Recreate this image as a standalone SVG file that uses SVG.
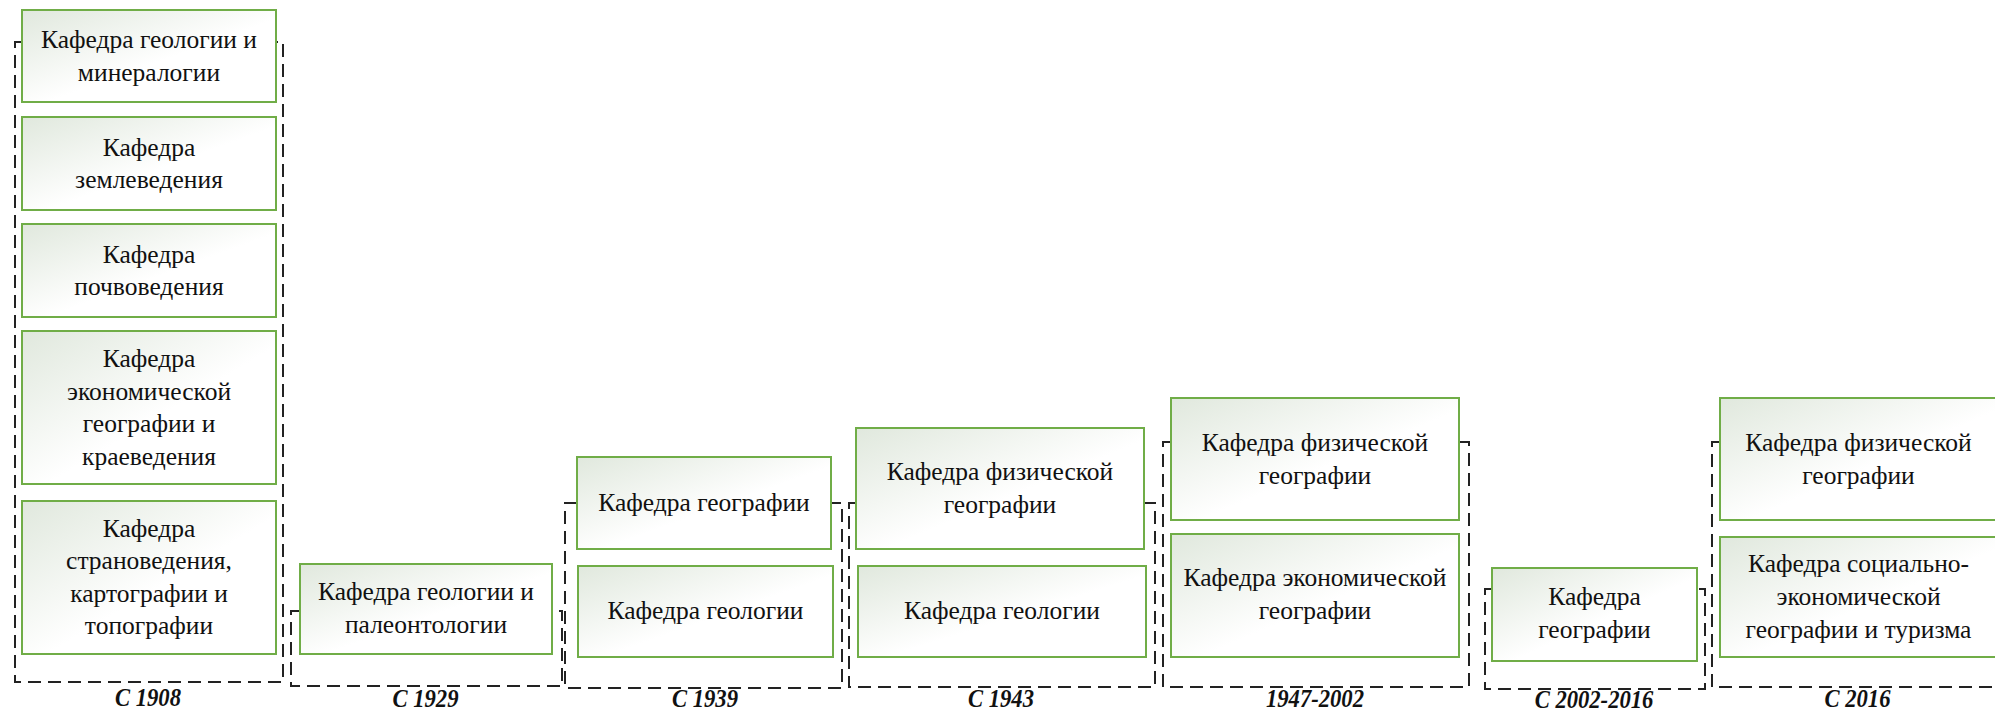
<svg xmlns="http://www.w3.org/2000/svg" width="1995" height="712" viewBox="0 0 1995 712">
<defs>
<linearGradient id="fillg" x1="0" y1="0" x2="1" y2="1">
<stop offset="0" stop-color="#e0e8dd"/>
<stop offset="0.55" stop-color="#ffffff"/>
<stop offset="1" stop-color="#ffffff"/>
</linearGradient>
</defs>
<style>
.box{fill:url(#fillg);stroke:#70ad47;stroke-width:2}
.t{font-family:"Liberation Serif","Times New Roman","DejaVu Serif",serif;font-size:25.5px;fill:#111;text-anchor:middle}
.br{fill:none;stroke:#222;stroke-width:2;stroke-dasharray:13 7}
.lab{font-family:"Liberation Serif","Times New Roman","DejaVu Serif",serif;font-size:26px;font-weight:bold;font-style:italic;fill:#111;text-anchor:middle}
</style>
<rect width="1995" height="712" fill="#ffffff"/>

<g id="connectors">
<path class="br" d="M22,42 H15 V682 H283 V42 H276"/>
<path class="br" d="M300,611 H291 V686 H562 V611 H552"/>
<path class="br" d="M577,503 H565 V688 H842 V503 H831"/>
<path class="br" d="M856,503 H849 V687 H1155 V503 H1144"/>
<path class="br" d="M1171,442 H1163 V687 H1469 V442 H1459"/>
<path class="br" d="M1492,589 H1485 V689 H1705 V589 H1697"/>
<path class="br" d="M1720,442 H1712 V687 H2005"/>
</g>

<g id="n1908a"><rect class="box" x="22" y="10" width="254" height="92"/>
<text class="t" x="149" y="48">Кафедра геологии и</text><text class="t" x="149" y="81">минералогии</text></g>
<g id="n1908b"><rect class="box" x="22" y="117" width="254" height="93"/>
<text class="t" x="149" y="156">Кафедра</text><text class="t" x="149" y="188">землеведения</text></g>
<g id="n1908c"><rect class="box" x="22" y="224" width="254" height="93"/>
<text class="t" x="149" y="263">Кафедра</text><text class="t" x="149" y="295">почвоведения</text></g>
<g id="n1908d"><rect class="box" x="22" y="331" width="254" height="153"/>
<text class="t" x="149" y="367">Кафедра</text><text class="t" x="149" y="400">экономической</text><text class="t" x="149" y="432">географии и</text><text class="t" x="149" y="465">краеведения</text></g>
<g id="n1908e"><rect class="box" x="22" y="501" width="254" height="153"/>
<text class="t" x="149" y="537">Кафедра</text><text class="t" x="149" y="569">страноведения,</text><text class="t" x="149" y="602">картографии и</text><text class="t" x="149" y="634">топографии</text></g>

<g id="n1929"><rect class="box" x="300" y="564" width="252" height="90"/>
<text class="t" x="426" y="600">Кафедра геологии и</text><text class="t" x="426" y="633">палеонтологии</text></g>

<g id="n1939a"><rect class="box" x="577" y="457" width="254" height="92"/>
<text class="t" x="704" y="511">Кафедра географии</text></g>
<g id="n1939b"><rect class="box" x="578" y="566" width="255" height="91"/>
<text class="t" x="705.5" y="619">Кафедра геологии</text></g>

<g id="n1943a"><rect class="box" x="856" y="428" width="288" height="121"/>
<text class="t" x="1000" y="480">Кафедра физической</text><text class="t" x="1000" y="513">географии</text></g>
<g id="n1943b"><rect class="box" x="858" y="566" width="288" height="91"/>
<text class="t" x="1002" y="619">Кафедра геологии</text></g>

<g id="n1947a"><rect class="box" x="1171" y="398" width="288" height="122"/>
<text class="t" x="1315" y="451">Кафедра физической</text><text class="t" x="1315" y="484">географии</text></g>
<g id="n1947b"><rect class="box" x="1171" y="534" width="288" height="123"/>
<text class="t" x="1315" y="586">Кафедра экономической</text><text class="t" x="1315" y="619">географии</text></g>

<g id="n2002"><rect class="box" x="1492" y="568" width="205" height="93"/>
<text class="t" x="1594.5" y="605">Кафедра</text><text class="t" x="1594.5" y="638">географии</text></g>

<g id="n2016a"><rect class="box" x="1720" y="398" width="277" height="122"/>
<text class="t" x="1858.5" y="451">Кафедра физической</text><text class="t" x="1858.5" y="484">географии</text></g>
<g id="n2016b"><rect class="box" x="1720" y="537" width="277" height="120"/>
<text class="t" x="1858.5" y="572">Кафедра социально-</text><text class="t" x="1858.5" y="605">экономической</text><text class="t" x="1858.5" y="638">географии и туризма</text></g>

<g id="labels">
<text class="lab" transform="translate(148,706) scale(0.87,1)">С 1908</text>
<text class="lab" transform="translate(425.5,707) scale(0.87,1)">С 1929</text>
<text class="lab" transform="translate(705,707) scale(0.87,1)">С 1939</text>
<text class="lab" transform="translate(1001,707) scale(0.87,1)">С 1943</text>
<text class="lab" transform="translate(1315,707) scale(0.87,1)">1947-2002</text>
<text class="lab" transform="translate(1594,708) scale(0.87,1)">С 2002-2016</text>
<text class="lab" transform="translate(1857.5,707) scale(0.87,1)">С 2016</text>
</g>
</svg>
